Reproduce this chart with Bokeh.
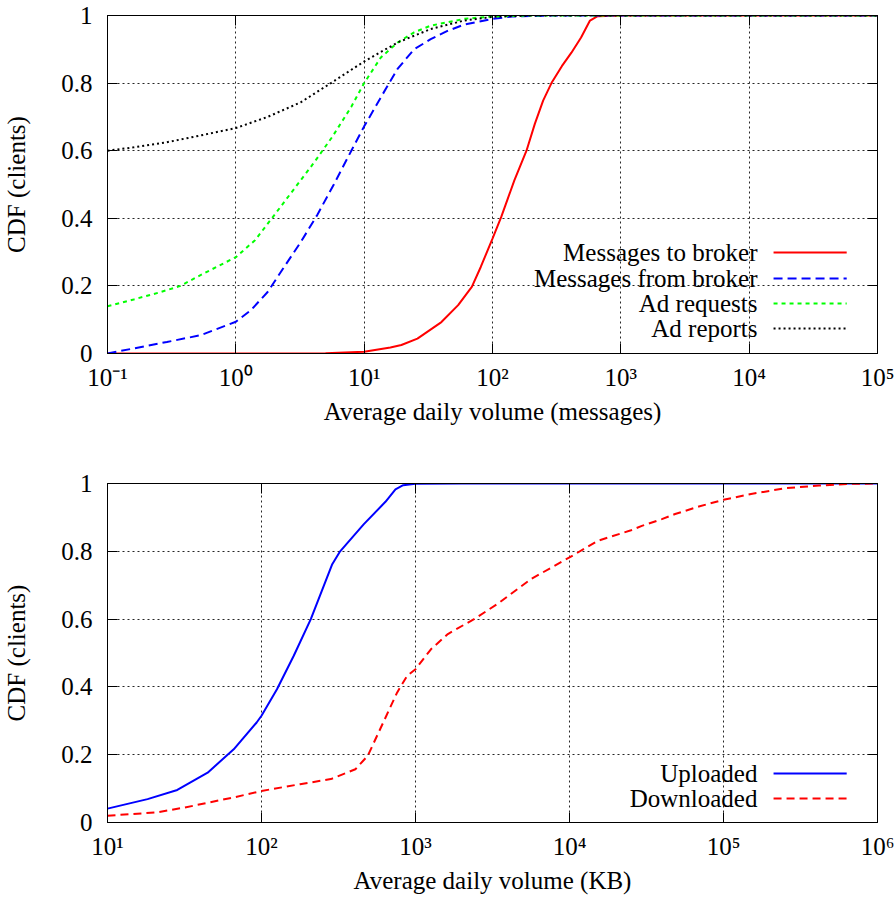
from bokeh.plotting import figure
from bokeh.layouts import column
from bokeh.models import FixedTicker, LogAxis, LinearAxis, CustomJSTickFormatter
from bokeh.core.properties import value
from bokeh.embed import file_html
from bokeh.resources import INLINE

# ---------------- data: top panel (messages) ----------------
to_broker_x = [0.1, 3, 5, 10, 16, 19.5, 26, 40, 54, 69, 81, 100, 117, 148, 184, 214,
               248, 288, 347, 412, 490, 575, 660, 1000, 1e5]
to_broker_y = [0.0, 0.0, 0.001, 0.005, 0.018, 0.025, 0.044, 0.093, 0.143, 0.197, 0.256,
               0.34, 0.404, 0.512, 0.60, 0.68, 0.748, 0.80, 0.85, 0.89, 0.935, 0.985,
               0.998, 1.0, 1.0]

from_broker_x = [0.1, 0.16, 0.29, 0.53, 1.0, 1.31, 1.77, 2.38, 3.21, 4.31, 5.8, 7.94, 10,
                 13.5, 18.2, 24.5, 33, 45, 60, 100, 140, 300, 1e5]
from_broker_y = [0.0, 0.015, 0.034, 0.054, 0.094, 0.128, 0.182, 0.256, 0.33, 0.41, 0.50,
                 0.60, 0.672, 0.758, 0.842, 0.90, 0.93, 0.955, 0.973, 0.99, 0.997, 1.0, 1.0]

ad_requests_x = [0.1, 0.16, 0.25, 0.37, 0.55, 1.0, 1.41, 2.0, 2.82, 3.98, 5.62, 7.94, 10,
                 13.5, 18.2, 24.5, 33, 60, 100, 200, 1e5]
ad_requests_y = [0.14, 0.16, 0.18, 0.20, 0.235, 0.285, 0.335, 0.41, 0.485, 0.56, 0.64,
                 0.73, 0.80, 0.876, 0.92, 0.95, 0.97, 0.99, 0.997, 1.0, 1.0]

ad_reports_x = [0.1, 0.16, 0.29, 0.53, 1.0, 1.77, 3.2, 5.5, 10, 18.2, 33, 60, 100, 200, 1e5]
ad_reports_y = [0.60, 0.61, 0.625, 0.645, 0.667, 0.70, 0.743, 0.80, 0.864, 0.92, 0.96,
                0.985, 0.996, 1.0, 1.0]

# ---------------- data: bottom panel (KB) ----------------
uploaded_x = [10, 18.2, 28.4, 44.7, 66, 93, 100, 126, 162, 209, 288, 324, 462, 638, 741,
              832, 1000, 2000, 1e6]
uploaded_y = [0.041, 0.069, 0.096, 0.147, 0.216, 0.295, 0.315, 0.393, 0.492, 0.60, 0.762,
              0.80, 0.88, 0.946, 0.983, 0.995, 0.999, 1.0, 1.0]

downloaded_x = [10, 21, 31.6, 66, 100, 178, 282, 407, 490, 589, 759, 883, 1000, 1259, 1622,
                2400, 3390, 5620, 10000, 15300, 25100, 29500, 39800, 48500, 69200, 1e5,
                1.51e5, 2.51e5, 4.17e5, 6.46e5, 1e6]
downloaded_y = [0.02, 0.03, 0.044, 0.074, 0.093, 0.113, 0.128, 0.157, 0.197, 0.275, 0.383,
                0.433, 0.452, 0.511, 0.556, 0.60, 0.644, 0.718, 0.782, 0.831, 0.862, 0.875,
                0.895, 0.91, 0.932, 0.952, 0.969, 0.986, 0.994, 0.999, 1.0]

# ---------------- ticks / labels ----------------
top_xticks = [0.1, 1, 10, 100, 1000, 10000, 100000]
top_xtick_labels = ["10\u207b\u00b9", "10\u2070", "10\u00b9", "10\u00b2", "10\u00b3",
                    "10\u2074", "10\u2075"]
bot_xticks = [10, 100, 1000, 10000, 100000, 1000000]
bot_xtick_labels = ["10\u00b9", "10\u00b2", "10\u00b3", "10\u2074", "10\u2075", "10\u2076"]
yticks = [0, 0.2, 0.4, 0.6, 0.8, 1]
ytick_labels = ["0", "0.2", "0.4", "0.6", "0.8", "1"]

top_series = ["Messages to broker", "Messages from broker", "Ad requests", "Ad reports"]
bot_series = ["Uploaded", "Downloaded"]

# ---------------- styles ----------------
FONT = "Liberation Serif"
FS = "25px"
RED, BLUE, GREEN, BLACK = "#ff0000", "#0000ff", "#00ff00", "#000000"


def style(p, xticks, xlabels, xlabel):
    p.xaxis.ticker = FixedTicker(ticks=xticks)
    p.xaxis.major_label_overrides = dict(zip(xticks, xlabels))
    p.yaxis.ticker = FixedTicker(ticks=yticks)
    p.yaxis.major_label_overrides = dict(zip(yticks, ytick_labels))
    p.xaxis.axis_label = xlabel
    p.yaxis.axis_label = "CDF (clients)"
    for ax in (p.xaxis, p.yaxis):
        ax.axis_label_text_font = FONT
        ax.axis_label_text_font_size = FS
        ax.axis_label_text_font_style = "normal"
        ax.axis_label_text_color = "black"
        ax.major_label_text_font = FONT
        ax.major_label_text_font_size = FS
        ax.major_label_text_color = "black"
        ax.major_tick_in = 10
        ax.major_tick_out = 0
        ax.minor_tick_in = 0
        ax.minor_tick_out = 0
        ax.axis_line_color = "black"
        ax.major_tick_line_color = "black"
    p.xaxis.major_label_standoff = 10
    p.xaxis.axis_label_standoff = 4
    p.yaxis.major_label_standoff = 15
    p.yaxis.axis_label_standoff = 28
    p.grid.grid_line_color = "black"
    p.grid.grid_line_alpha = 0.85
    p.grid.grid_line_dash = "2 3"
    p.grid.grid_line_width = 1
    p.outline_line_color = "black"
    p.outline_line_alpha = 1
    p.outline_line_width = 1
    p.background_fill_color = "white"
    p.border_fill_color = "white"
    # mirrored ticks (no labels) on top and right
    blank = CustomJSTickFormatter(code="return ''")
    top = LogAxis(ticker=FixedTicker(ticks=xticks), formatter=blank,
                  major_tick_in=10, major_tick_out=0, major_label_standoff=0,
                  major_label_text_font_size="1px", minor_tick_in=0, minor_tick_out=0)
    right = LinearAxis(ticker=FixedTicker(ticks=yticks), formatter=blank,
                       major_tick_in=10, major_tick_out=0, major_label_standoff=0,
                       major_label_text_font_size="1px", minor_tick_in=0, minor_tick_out=0)
    p.add_layout(top, "above")
    p.add_layout(right, "right")


def legend(p, labels, colors, dashes, text_x, key_x0, key_x1, rows):
    p.text(x=[text_x] * len(labels), y=rows, text=labels,
           text_font=value(FONT), text_font_size=value(FS), text_color="black",
           text_align="right", text_baseline="middle")
    for c, d, r in zip(colors, dashes, rows):
        p.line(x=[key_x0, key_x1], y=[r, r], line_color=c, line_dash=d, line_width=2)


# ---------------- top figure ----------------
p1 = figure(width=895, height=450, x_axis_type="log", x_range=(0.1, 1e5), y_range=(0, 1),
            output_backend="svg", toolbar_location=None,
            min_border_left=107, min_border_right=18, min_border_top=15, min_border_bottom=97)
style(p1, top_xticks, top_xtick_labels, "Average daily volume (messages)")
p1.line(to_broker_x, to_broker_y, line_color=RED, line_width=2)
p1.line(from_broker_x, from_broker_y, line_color=BLUE, line_width=2, line_dash="9 5")
p1.line(ad_requests_x, ad_requests_y, line_color=GREEN, line_width=2, line_dash="4 4")
p1.line(ad_reports_x, ad_reports_y, line_color=BLACK, line_width=2, line_dash="2 3")
legend(p1, top_series, [RED, BLUE, GREEN, BLACK], ["solid", "9 5", "4 4", "2 3"],
       10 ** 4.065, 10 ** 4.19, 10 ** 4.76, [0.299, 0.222, 0.148, 0.074])

# ---------------- bottom figure ----------------
p2 = figure(width=895, height=451, x_axis_type="log", x_range=(10, 1e6), y_range=(0, 1),
            output_backend="svg", toolbar_location=None,
            min_border_left=107, min_border_right=18, min_border_top=33, min_border_bottom=79)
style(p2, bot_xticks, bot_xtick_labels, "Average daily volume (KB)")
p2.line(uploaded_x, uploaded_y, line_color=BLUE, line_width=2)
p2.line(downloaded_x, downloaded_y, line_color=RED, line_width=2, line_dash="8 5")
legend(p2, bot_series, [BLUE, RED], ["solid", "8 5"],
       10 ** 5.22, 10 ** 5.325, 10 ** 5.80, [0.1445, 0.0708])

layout = column(p1, p2, spacing=0)
open("out.html", "w").write(file_html(layout, INLINE))
